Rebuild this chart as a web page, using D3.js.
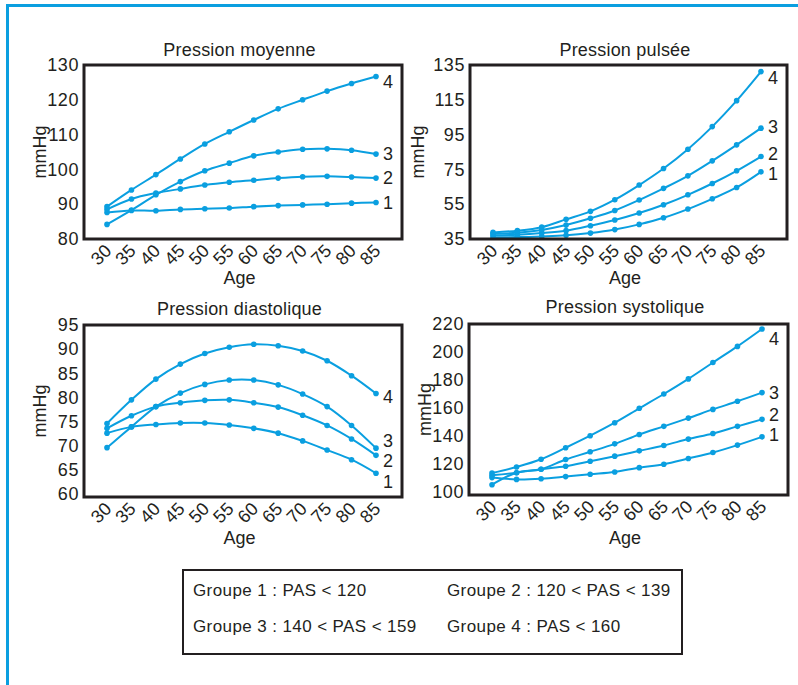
<!DOCTYPE html>
<html><head><meta charset="utf-8">
<script src="https://cdn.jsdelivr.net/npm/d3@7"></script>
<style>
html,body{margin:0;padding:0;background:#fff;}
svg{display:block;font-family:"Liberation Sans",Arial,Helvetica,sans-serif;}
</style></head>
<body><svg id="c" width="798" height="685"></svg>
<script>
// ---- data ----
const ages = [30,35,40,45,50,55,60,65,70,75,80,85];
const groups = ["1","2","3","4"];

const moyenne1 = [87.6, 88.2, 88.1, 88.5, 88.7, 88.9, 89.3, 89.6, 89.8, 90.0, 90.3, 90.5];
const moyenne2 = [88.5, 91.5, 93.2, 94.4, 95.5, 96.3, 96.9, 97.5, 97.9, 98.0, 97.8, 97.5];
const moyenne3 = [84.2, 88.3, 92.7, 96.5, 99.6, 101.8, 103.9, 105.0, 105.8, 105.9, 105.5, 104.4];
const moyenne4 = [89.3, 94.1, 98.5, 103.0, 107.3, 110.8, 114.2, 117.4, 120.0, 122.5, 124.7, 126.7];

const pulsee1 = [36.0, 36.1, 36.5, 37.1, 38.4, 40.4, 43.4, 47.2, 52.2, 58.1, 64.6, 73.6];
const pulsee2 = [37.1, 37.5, 38.4, 39.8, 42.6, 45.9, 49.9, 54.7, 60.4, 66.9, 74.2, 82.4];
const pulsee3 = [38.0, 38.6, 40.2, 43.0, 46.9, 51.4, 57.4, 64.1, 71.3, 79.9, 89.1, 98.7];
const pulsee4 = [38.8, 39.8, 41.8, 46.3, 50.9, 57.6, 66.0, 75.5, 86.6, 99.6, 114.5, 131.2];

const diast1 = [72.6, 73.9, 74.4, 74.7, 74.7, 74.3, 73.6, 72.6, 71.0, 69.1, 67.1, 64.3];
const diast2 = [73.6, 76.2, 78.1, 78.9, 79.4, 79.5, 78.9, 78.0, 76.3, 74.2, 71.4, 68.0];
const diast3 = [69.6, 73.9, 78.1, 80.9, 82.7, 83.6, 83.6, 82.6, 80.7, 78.1, 74.2, 69.5];
const diast4 = [74.6, 79.5, 83.8, 86.9, 89.1, 90.4, 91.0, 90.7, 89.6, 87.6, 84.5, 80.8];

const syst1 = [110.3, 109.0, 109.5, 111.0, 112.7, 114.3, 117.4, 119.8, 123.9, 128.2, 133.5, 139.4];
const syst2 = [111.9, 113.8, 116.3, 118.4, 122.0, 125.6, 129.4, 133.2, 137.8, 141.8, 146.9, 151.9];
const syst3 = [105.2, 113.8, 116.3, 123.2, 128.7, 134.4, 141.1, 146.9, 152.8, 159.0, 164.8, 171.0];
const syst4 = [113.6, 117.9, 123.4, 131.6, 140.2, 149.5, 159.8, 170.0, 180.8, 192.5, 204.0, 216.4];

const ticksMoyenne = [80,90,100,110,120,130];
const ticksPulsee = [35,55,75,95,115,135];
const ticksDiast = [60,65,70,75,80,85,90,95];
const ticksSyst = [100,120,140,160,180,200,220];

const titles = ["Pression moyenne","Pression pulsée","Pression diastolique","Pression systolique"];
const legendRows = [
  ["Groupe 1 : PAS < 120", "Groupe 2 : 120 < PAS < 139"],
  ["Groupe 3 : 140 < PAS < 159", "Groupe 4 : PAS < 160"]
];
const xLabel = "Age", yLabel = "mmHg";

// ---- layout ----
const BLUE = "#0a9fe0", INK = "#231f20";
const panels = [
  {title:titles[0], series:[moyenne1,moyenne2,moyenne3,moyenne4], ticks:ticksMoyenne,
   box:[84,65,402,239], yr:[239,65], lblDy:[0,0,0,5], mmX:44, titleY:56, ageY:284},
  {title:titles[1], series:[pulsee1,pulsee2,pulsee3,pulsee4], ticks:ticksPulsee,
   box:[470,65,787,239], yr:[239,65], lblDy:[2,-3,-1,6], mmX:52, titleY:56, ageY:284},
  {title:titles[2], series:[diast1,diast2,diast3,diast4], ticks:ticksDiast,
   box:[84,325,402,497], yr:[494,325], lblDy:[8,5,-7,3], mmX:44, titleY:315, ageY:544},
  {title:titles[3], series:[syst1,syst2,syst3,syst4], ticks:ticksSyst,
   box:[469,324,788,495], yr:[492,324], lblDy:[-2,-5,0,10], mmX:44, titleY:313, ageY:544}
];

const svg = d3.select("#c");

// outer blue frame (top & left visible)
svg.append("rect").attr("x",7.5).attr("y",5.5).attr("width",830).attr("height",720)
  .attr("fill","none").attr("stroke",BLUE).attr("stroke-width",3);

panels.forEach(p => {
  const [x0,y0,x1,y1] = p.box;
  const g = svg.append("g");
  const x = d3.scaleLinear().domain([d3.min(ages), d3.max(ages)]).range([x0+23, x1-26]);
  const y = d3.scaleLinear().domain([d3.min(p.ticks), d3.max(p.ticks)]).range(p.yr);

  // y axis
  const ya = g.append("g").attr("transform",`translate(${x0-5},0)`)
    .call(d3.axisLeft(y).tickValues(p.ticks).tickSize(0).tickPadding(0));
  ya.select(".domain").remove();
  ya.selectAll("text").attr("font-size",18).attr("fill",INK)
    .attr("font-family","'Liberation Sans',Arial,sans-serif").style("letter-spacing","0.6px");

  // x axis
  const xa = g.append("g").attr("transform",`translate(0,${y1})`)
    .call(d3.axisBottom(x).tickValues(ages).tickSize(0).tickFormat(d3.format("d")));
  xa.select(".domain").remove();
  xa.selectAll("text").attr("font-size",18).attr("fill",INK)
    .attr("font-family","'Liberation Sans',Arial,sans-serif")
    .attr("text-anchor","end").attr("dy",null).attr("y",null)
    .attr("transform","translate(5,13) rotate(-45)");

  // lines
  const line = d3.line().x((d,i)=>x(ages[i])).y(d=>y(d)).curve(d3.curveCatmullRom.alpha(0.5));
  p.series.forEach((s,si) => {
    g.append("path").attr("d",line(s)).attr("fill","none")
      .attr("stroke",BLUE).attr("stroke-width",2);
    g.selectAll(null).data(s).enter().append("circle")
      .attr("cx",(d,i)=>x(ages[i])).attr("cy",d=>y(d)).attr("r",2.8).attr("fill",BLUE);
    g.append("text").attr("x",x(ages[ages.length-1])+7)
      .attr("y",y(s[s.length-1])+p.lblDy[si]).attr("dy","0.35em")
      .attr("font-size",18).attr("fill",INK).text(groups[si]);
  });

  // frame
  g.append("rect").attr("x",x0).attr("y",y0).attr("width",x1-x0).attr("height",y1-y0)
    .attr("fill","none").attr("stroke",INK).attr("stroke-width",3);

  // titles
  const cx = (x(30)+x(85))/2 - 2;
  g.append("text").attr("x",cx).attr("y",p.titleY).attr("text-anchor","middle")
    .attr("font-size",18).attr("fill",INK).style("letter-spacing","0.2px").text(p.title);
  g.append("text").attr("x",cx).attr("y",p.ageY).attr("text-anchor","middle")
    .attr("font-size",18).attr("fill",INK).text(xLabel);
  g.append("text").attr("transform",`translate(${x0-p.mmX},${(y0+y1)/2}) rotate(-90)`)
    .attr("text-anchor","middle").attr("dy","0.35em")
    .attr("font-size",18).attr("fill",INK).text(yLabel);
});

// legend
const lg = svg.append("g");
lg.append("rect").attr("x",183).attr("y",570).attr("width",499).attr("height",84)
  .attr("fill","none").attr("stroke",INK).attr("stroke-width",2);
const colX = [193, 447], rowY = [596, 632];
legendRows.forEach((row,ri) => row.forEach((t,ci) => {
  lg.append("text").attr("x",colX[ci]).attr("y",rowY[ri]).attr("font-size",17)
    .style("letter-spacing","0.4px").attr("fill",INK).text(t);
}));
</script>
</body></html>
